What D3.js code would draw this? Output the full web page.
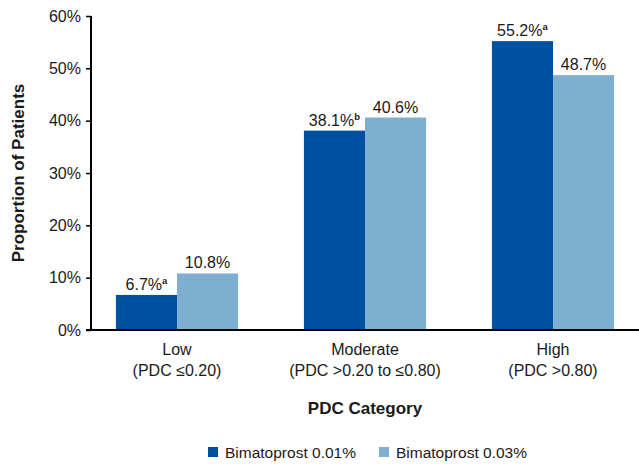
<!DOCTYPE html>
<html>
<head>
<meta charset="utf-8">
<script src="https://cdn.jsdelivr.net/npm/d3@7"></script>
<style>
  html, body { margin: 0; padding: 0; background: #fff; }
  svg { display: block; }
  text { font-family: "Liberation Sans", Arial, sans-serif; fill: #1a1a1a; }
</style>
</head>
<body>
<svg id="chart" width="639" height="465"></svg>
<script>
// PDC categories (two-line labels) and proportion of patients per arm (%)
const categories = ["Low", "Moderate", "High"];
const categorySubLabels = ["(PDC \u22640.20)", "(PDC >0.20 to \u22640.80)", "(PDC >0.80)"];
const seriesNames = ["Bimatoprost 0.01%", "Bimatoprost 0.03%"];
const bim001 = [6.7, 38.1, 55.2];
const bim003 = [10.8, 40.6, 48.7];
const bim001Notes = ["a", "b", "a"];
const bim003Notes = ["", "", ""];
const yTicks = [0, 10, 20, 30, 40, 50, 60];

const colors = ["#0050a0", "#7fafd0"];
const series = [
  { name: seriesNames[0], values: bim001, notes: bim001Notes, color: colors[0] },
  { name: seriesNames[1], values: bim003, notes: bim003Notes, color: colors[1] }
];

const svg = d3.select("#chart");
const axisX = 91, plotRight = 639, yTop = 16, yBottom = 330;

const x = d3.scaleBand().domain(categories).range([83, 647]).paddingInner(0.35).paddingOuter(0.175);
const xs = d3.scaleBand().domain([0, 1]).range([0, x.bandwidth()]);
const y = d3.scaleLinear().domain([0, 60]).range([yBottom, yTop]);

// Bars with value labels and footnote markers
series.forEach((s, si) => {
  const g = svg.append("g");
  g.selectAll("rect").data(categories).join("rect")
    .attr("x", c => x(c) + xs(si))
    .attr("y", (c, i) => y(s.values[i]))
    .attr("width", xs.bandwidth())
    .attr("height", (c, i) => y(0) - y(s.values[i]))
    .attr("fill", s.color);

  const lbl = g.selectAll("text").data(categories).join("text")
    .attr("x", c => x(c) + xs(si) + xs.bandwidth() / 2)
    .attr("y", (c, i) => y(s.values[i]) - 5)
    .attr("text-anchor", "middle")
    .style("font-size", "16px");
  lbl.append("tspan").text((c, i) => s.values[i].toFixed(1) + "%");
  lbl.append("tspan")
    .attr("dy", -6)
    .style("font-size", "9.5px")
    .style("font-weight", "bold")
    .text((c, i) => s.notes[i]);
});

// Y axis
const yAxis = d3.axisLeft(y).tickValues(yTicks).tickSize(5).tickPadding(5)
  .tickFormat(d => d + "%");
const yg = svg.append("g").attr("transform", `translate(${axisX},0)`).call(yAxis);
yg.select(".domain").attr("d", `M0,${yTop}V${yBottom}`).attr("stroke", "#000").attr("stroke-width", 2);
yg.selectAll(".tick line").attr("stroke", "#000").attr("stroke-width", 1.5);
yg.selectAll(".tick text").style("font-size", "16px").style("font-family", "'Liberation Sans', Arial, sans-serif").attr("fill", "#1a1a1a");

// X axis baseline
svg.append("line")
  .attr("x1", axisX - 5).attr("x2", plotRight)
  .attr("y1", yBottom).attr("y2", yBottom)
  .attr("stroke", "#000").attr("stroke-width", 2);

// Category labels
categories.forEach((c, i) => {
  const cx = x(c) + x.bandwidth() / 2;
  svg.append("text").attr("x", cx).attr("y", 355).attr("text-anchor", "middle")
    .style("font-size", "16px").text(c);
  svg.append("text").attr("x", cx).attr("y", 376).attr("text-anchor", "middle")
    .style("font-size", "16px").text(categorySubLabels[i]);
});

// Axis titles
svg.append("text")
  .attr("transform", `translate(24,${(yTop + yBottom) / 2}) rotate(-90)`)
  .attr("text-anchor", "middle")
  .style("font-size", "17px").style("font-weight", "bold")
  .text("Proportion of Patients");

svg.append("text")
  .attr("x", 365).attr("y", 414).attr("text-anchor", "middle")
  .style("font-size", "17px").style("font-weight", "bold")
  .text("PDC Category");

// Legend
const legendX = [208, 379];
series.forEach((s, i) => {
  const lg = svg.append("g").attr("transform", `translate(${legendX[i]},447)`);
  lg.append("rect").attr("width", 10).attr("height", 10).attr("fill", s.color);
  lg.append("text").attr("x", 17).attr("y", 10.5).style("font-size", "15.5px").text(s.name);
});
</script>
</body>
</html>
